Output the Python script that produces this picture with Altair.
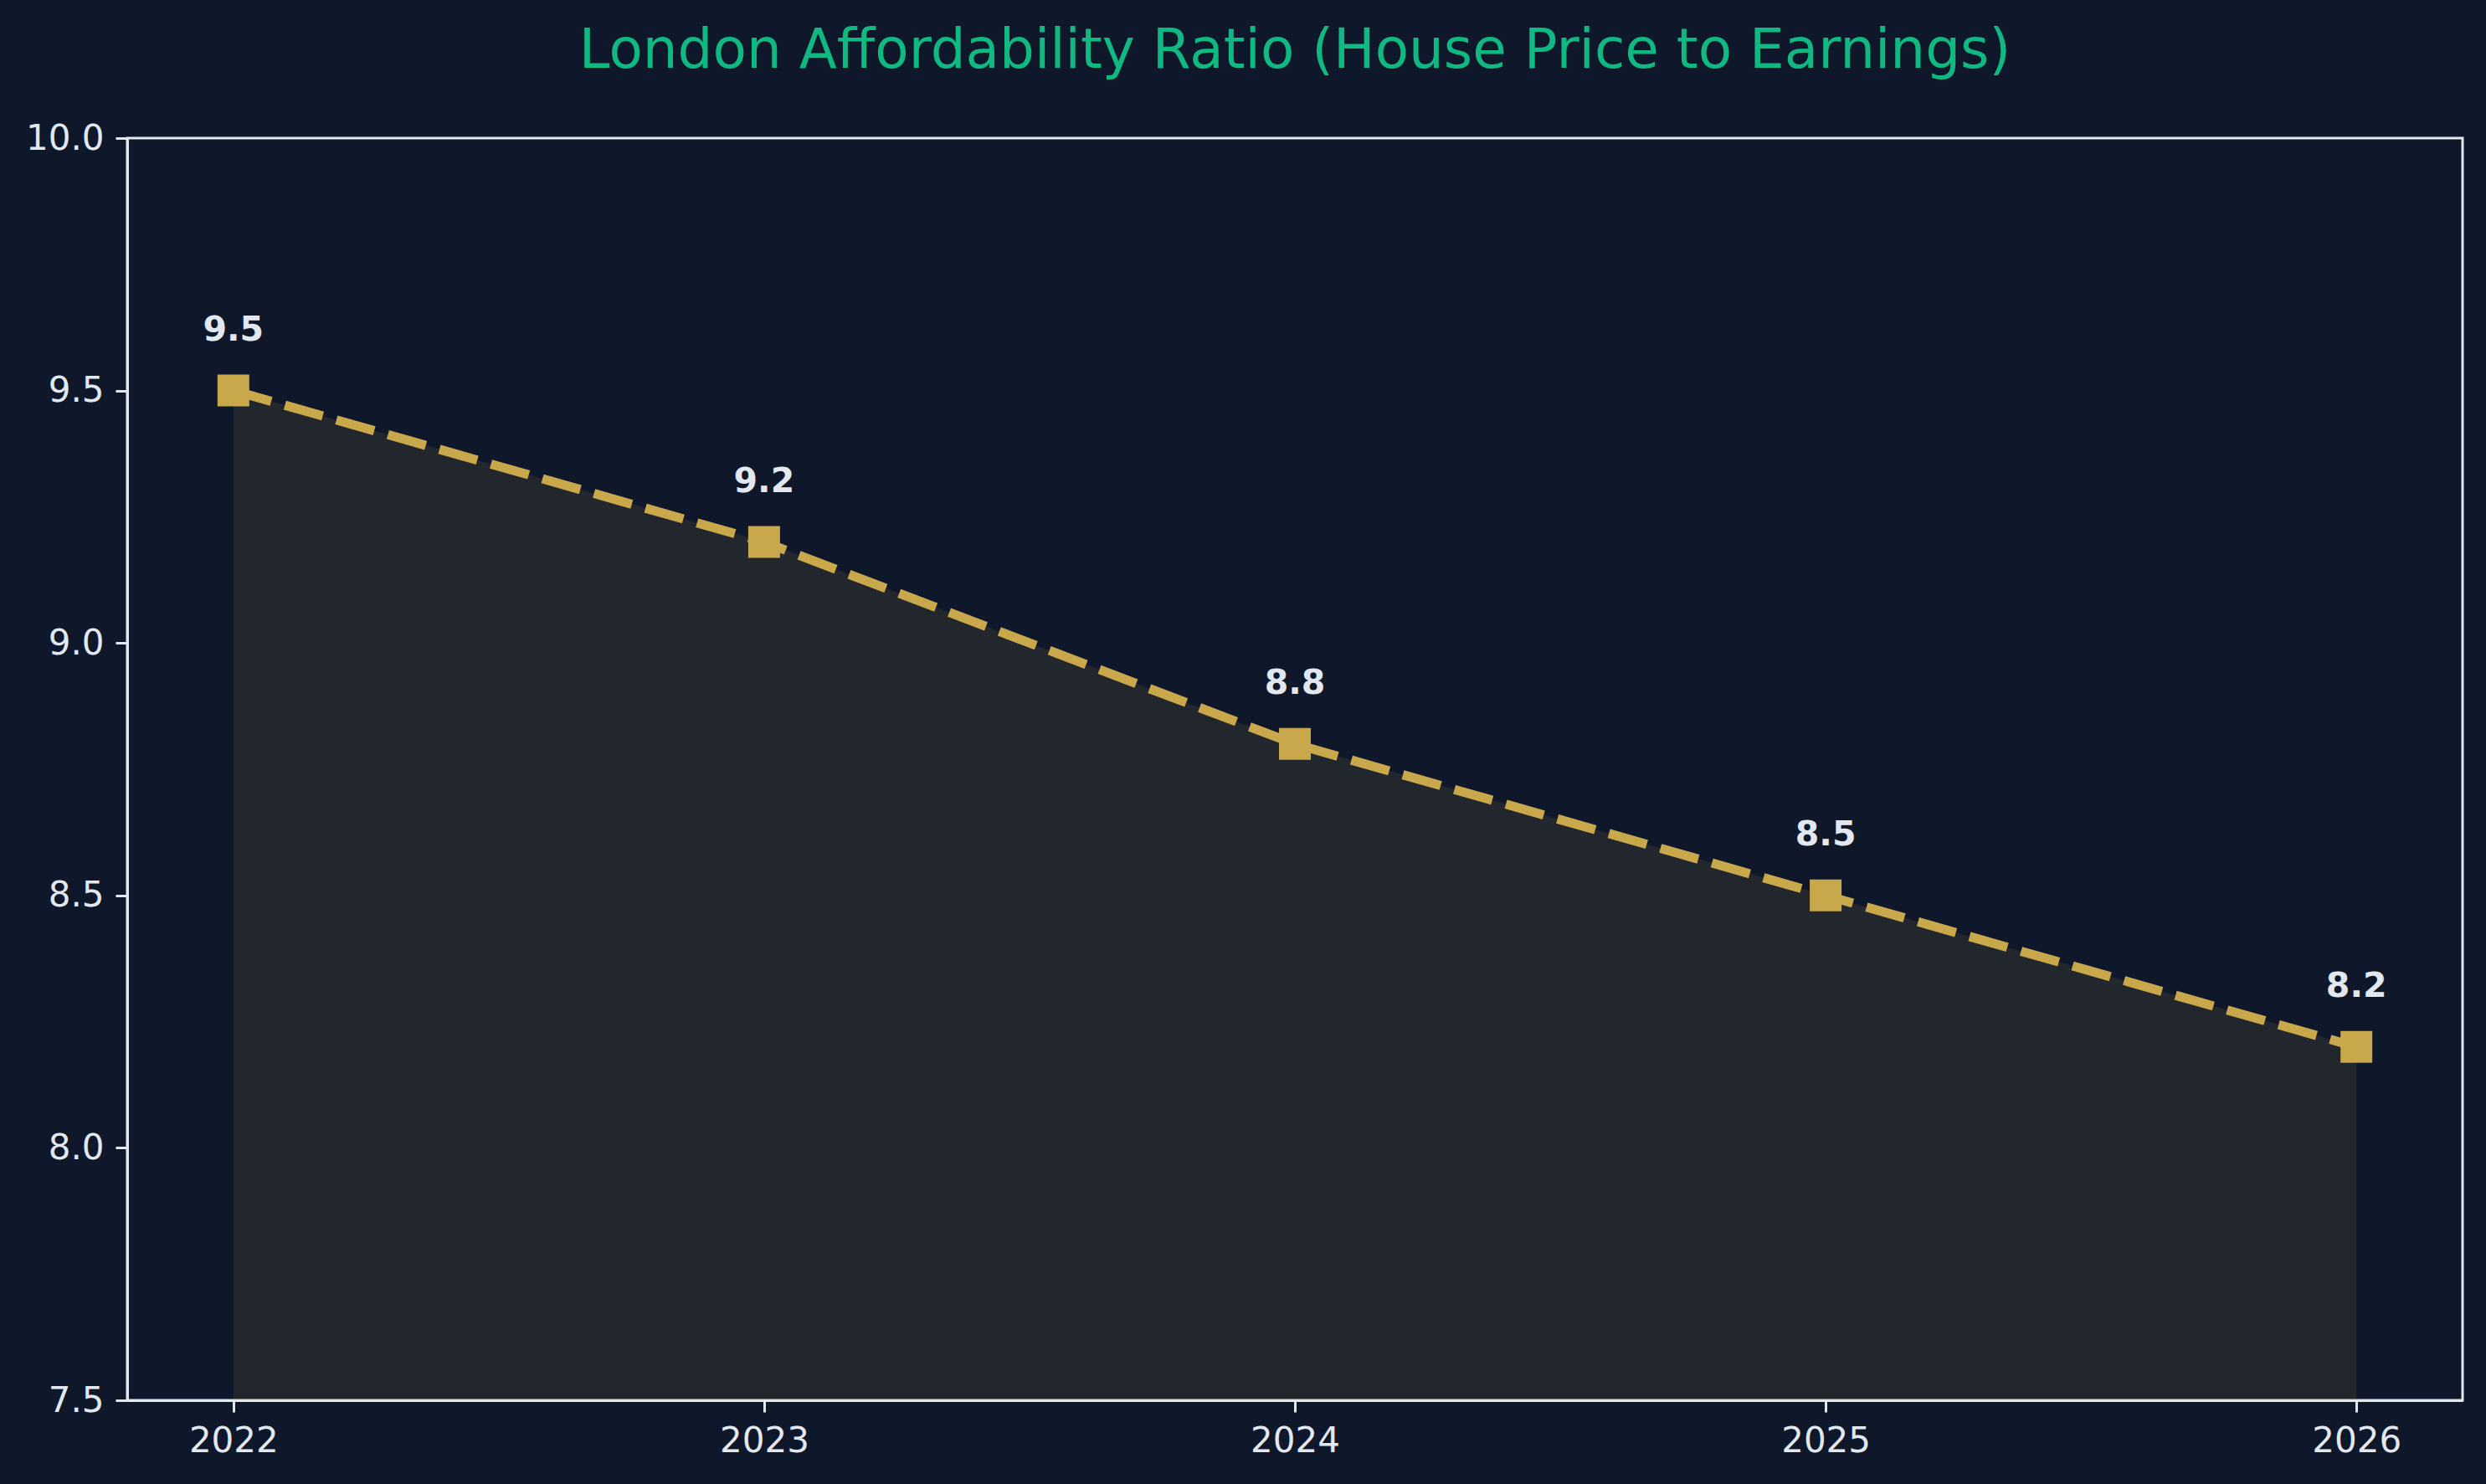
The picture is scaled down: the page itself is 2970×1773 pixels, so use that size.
import altair as alt
import pandas as pd

# London house price to earnings ratio by year
years = [2022, 2023, 2024, 2025, 2026]
ratios = [9.5, 9.2, 8.8, 8.5, 8.2]
labels = ["9.5", "9.2", "8.8", "8.5", "8.2"]
y_ticks = [7.5, 8.0, 8.5, 9.0, 9.5, 10.0]

df = pd.DataFrame({"year": years, "ratio": ratios, "label": labels, "base": [7.5] * len(years)})

BG = "#0f172a"
GOLD = "#c9a84c"
TEXT = "#e2e8f0"
FONT = "DejaVu Sans"

x = alt.X(
    "year:Q",
    scale=alt.Scale(domain=[2021.8, 2026.2], nice=False, zero=False),
    axis=alt.Axis(values=years, format="d", title=None, grid=False),
)
y = alt.Y(
    "ratio:Q",
    scale=alt.Scale(domain=[7.5, 10.0], nice=False, zero=False),
    axis=alt.Axis(values=y_ticks, format=".1f", title=None, grid=False),
)

base = alt.Chart(df)

area = base.mark_area(
    color=GOLD, opacity=0.1, stroke=GOLD, strokeOpacity=0.1, strokeWidth=3
).encode(x=x, y=y, y2="base:Q")

line = base.mark_line(
    color=GOLD, strokeWidth=11, strokeDash=[47, 17], strokeCap="butt"
).encode(x=x, y=y)

points = base.mark_point(
    shape="square", filled=True, color=GOLD, opacity=1, size=1444
).encode(x=x, y=y)

text = base.mark_text(
    font=FONT, fontSize=41, fontWeight="bold", color=TEXT,
    align="center", baseline="alphabetic", dy=-60
).encode(x=x, y=y, text="label:N")

chart = (
    alt.layer(area, line, points, text)
    .properties(
        width=2790,
        height=1508,
        background=BG,
        padding={"left": 152, "top": 165, "right": 28, "bottom": 100},
        autosize=alt.AutoSizeParams(type="none"),
        title=alt.TitleParams(
            "London Affordability Ratio (House Price to Earnings)",
            font=FONT, fontSize=66, fontWeight="normal", color="#10b981",
            anchor="middle", frame="group", baseline="alphabetic", offset=-3,
        ),
    )
    .configure_view(stroke=TEXT, strokeWidth=3, fill=BG)
    .configure_axis(
        domainColor=TEXT, domainWidth=3, tickColor=TEXT, tickWidth=3, tickSize=14,
        labelColor=TEXT, labelFont=FONT, labelFontSize=42, labelPadding=14,
    )
)

chart.save("out.html", embed_options={"renderer": "svg", "actions": False})
